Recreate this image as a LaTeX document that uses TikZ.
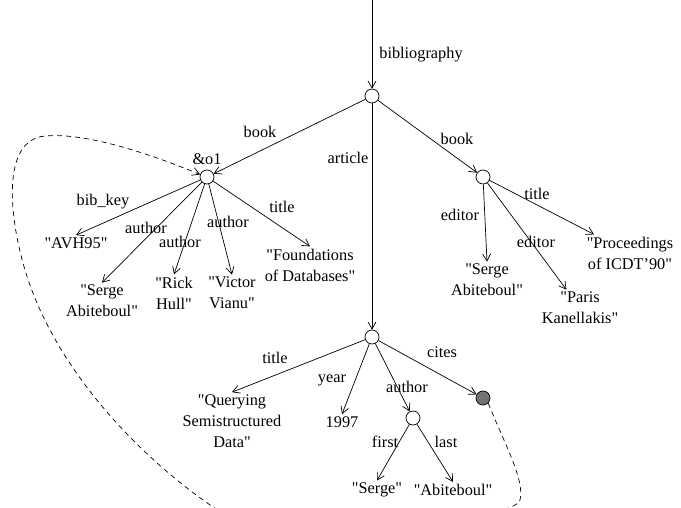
\documentclass[tikz,border=0pt]{standalone}
\usepackage{fontspec}
\setmainfont{Liberation Serif}[Ligatures=TeXOff]
\usetikzlibrary{arrows.meta}
\tikzset{>={Straight Barb[length=7pt,width=8pt]}}

\begin{document}
\begin{tikzpicture}[x=1pt,y=-1pt,line width=0.7pt,
  every node/.style={font=\fontsize{16.3}{21}\selectfont},
  obj/.style={circle,draw,minimum size=14pt,inner sep=0pt},
  val/.style={align=center,inner sep=2pt}]
  \useasboundingbox (0,0) rectangle (681,508);
  % objects
  \coordinate (T) at (372,0);
  \node[obj] (R) at (372,96) {};
  \node[obj] (O1) at (207,177) {};
  \node[obj] (B2) at (483,177) {};
  \node[obj] (A) at (372,337) {};
  \node[obj] (AU) at (413,418) {};
  \node[obj,fill=black!55] (G) at (483,398) {};
  \node (lo1) at (207,159) {\&o1};
  % values
  \node[val] (avh) at (76,243) {"AVH95"};
  \node[val] (sa1) at (102,301) {"Serge\\Abiteboul"};
  \node[val] (rh) at (174,293) {"Rick\\Hull"};
  \node[val] (vv) at (232,293) {"Victor\\Vianu"};
  \node[val] (fd) at (310,265) {"Foundations\\of Databases"};
  \node[val] (sa2) at (487,280) {"Serge\\Abiteboul"};
  \node[val] (pk) at (580,308) {"Paris\\Kanellakis"};
  \node[val] (pi) at (630,253) {"Proceedings\\of ICDT’90"};
  \node[val] (qsd) at (232,421) {"Querying\\Semistructured\\Data"};
  \node[val] (yr) at (342,422) {1997};
  \node[val] (fn) at (377,490) {"Serge"};
  \node[val] (ln) at (453,490) {"Abiteboul"};
  % edge labels
  \node (lbib) at (421,55) {bibliography};
  \node (lbk1) at (260,132) {book};
  \node (lart) at (348,158) {article};
  \node (lbk2) at (457,139) {book};
  \node (lkey) at (103,202) {bib\_key};
  \node (lau1) at (146,228) {author};
  \node (lau2) at (180,242) {author};
  \node (lau3) at (228,222) {author};
  \node (lti1) at (282,207) {title};
  \node (led1) at (460,215) {editor};
  \node (led2) at (536,242) {editor};
  \node (lti2) at (537,194) {title};
  \node (lti3) at (275,358) {title};
  \node (lyr) at (332,380) {year};
  \node (lau4) at (407,387) {author};
  \node (lcit) at (442,352) {cites};
  \node (lfst) at (385,442) {first};
  \node (llst) at (446,442) {last};
  % edges
  \draw[->] (T) -- (R);
  \draw[->] (R) -- (O1);
  \draw[->] (R) -- (B2);
  \draw[->] (R) -- (A);
  \draw[->] (O1) -- (avh.north);
  \draw[->] (O1) -- (sa1.north);
  \draw[->] (O1) -- (rh.north);
  \draw[->] (O1) -- (vv.north);
  \draw[->] (O1) -- (fd.north);
  \draw[->] (B2) -- (sa2.north);
  \draw[->] (B2) -- (pk);
  \draw[->] (B2) -- (pi);
  \draw[->] (A) -- (qsd.north);
  \draw[->] (A) -- (yr.north);
  \draw[->] (A) -- (AU);
  \draw[->] (A) -- (G);
  \draw[->] (AU) -- (fn.north);
  \draw[->] (AU) -- (ln.north);
  \begin{scope}
    \clip (0,0) rectangle (681,508);
    \draw[->,dash pattern=on 5pt off 4pt] (G.south east)
      .. controls (505,445) and (525,480) .. (520,500)
      .. controls (515,520) and (290,560) .. (213,507)
      .. controls (140,457) and (55,370) .. (25,270)
      .. controls (10,220) and (0,140) .. (45,136)
      .. controls (90,132) and (160,158) .. (O1.160);
  \end{scope}
\end{tikzpicture}
\end{document}
